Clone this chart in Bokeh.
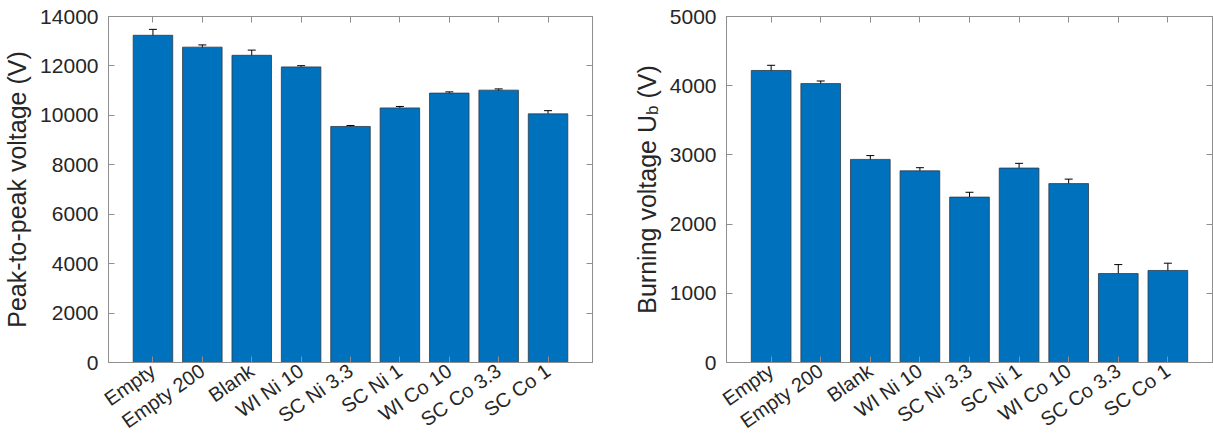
import math
from bokeh.plotting import figure
from bokeh.layouts import row
from bokeh.models import (ColumnDataSource, Whisker, TeeHead, FixedTicker,
                          LinearAxis)
from bokeh.core.properties import value
from bokeh.embed import file_html
from bokeh.resources import INLINE

# Sample names along the x axis
samples = ["Empty", "Empty 200", "Blank", "WI Ni 10", "SC Ni 3.3",
           "SC Ni 1", "WI Co 10", "SC Co 3.3", "SC Co 1"]

# Peak-to-peak voltage (V) and its standard deviation
vpp = [13240, 12760, 12430, 11960, 9550, 10300, 10900, 11020, 10060]
vpp_err = [240, 90, 210, 50, 40, 60, 50, 50, 130]

# Burning voltage U_b (V) and its standard deviation
ub = [4220, 4030, 2935, 2770, 2390, 2810, 2585, 1285, 1330]
ub_err = [75, 38, 55, 45, 70, 68, 65, 130, 105]

FONT = "Liberation Sans"
TXT = "#262626"
BOX = "#8f8f8f"
BAR = "#0072BD"
LBL = 25      # axis label size, px
SUB = 17      # subscript size, px
H = 448
TOP, BOTTOM = 16, 86   # borders above and below every plot frame


def panel(values, errors, ymax, ystep, ylabel, width, border_left, border_right):
    xs = list(range(1, len(samples) + 1))
    yticks = list(range(0, ymax + 1, ystep))
    src = ColumnDataSource(dict(
        x=xs, top=values,
        upper=[v + e for v, e in zip(values, errors)],
        lower=[v - e for v, e in zip(values, errors)],
    ))
    p = figure(width=width, height=H, x_range=(0.1, len(samples) + 0.9),
               y_range=(0, ymax), output_backend="svg", toolbar_location=None,
               min_border_left=border_left, min_border_right=border_right,
               min_border_top=TOP, min_border_bottom=BOTTOM)
    p.xgrid.visible = False
    p.ygrid.visible = False
    p.outline_line_color = BOX
    p.outline_line_width = 1
    p.background_fill_color = "white"
    p.border_fill_color = "white"

    p.vbar(x="x", top="top", width=0.8, source=src, fill_color=BAR,
           line_color="#2b3a4a", line_width=0.8)
    p.add_layout(Whisker(source=src, base="x", upper="upper", lower="lower",
                         line_color="black", line_width=1,
                         upper_head=TeeHead(size=8, line_color="black", line_width=1),
                         lower_head=TeeHead(size=8, line_color="black", line_width=1)))

    xt = FixedTicker(ticks=xs)
    yt = FixedTicker(ticks=yticks)

    bottom_ax = p.xaxis[0]
    left_ax = p.yaxis[0]
    bottom_ax.ticker = xt
    bottom_ax.major_label_overrides = {i + 1: s for i, s in enumerate(samples)}
    bottom_ax.major_label_orientation = math.radians(35)
    bottom_ax.major_label_text_font_size = "20px"
    bottom_ax.major_label_standoff = 6
    left_ax.ticker = yt
    left_ax.major_label_text_font_size = "21px"
    left_ax.major_label_standoff = 10
    left_ax.axis_label_text_font_size = f"{LBL}px"
    left_ax.axis_label_standoff = 6
    if ylabel:
        left_ax.axis_label = ylabel

    # mirrored tick marks on the top and right edges, without labels
    top_ax = LinearAxis(ticker=xt, major_label_overrides={t: "" for t in xs})
    right_ax = LinearAxis(ticker=yt, major_label_overrides={t: "" for t in yticks})
    p.add_layout(top_ax, "above")
    p.add_layout(right_ax, "right")
    for ax in (top_ax, right_ax):
        ax.major_label_standoff = 0

    for ax in (bottom_ax, left_ax, top_ax, right_ax):
        ax.axis_line_color = BOX
        ax.major_tick_line_color = BOX
        ax.major_tick_in = 6
        ax.major_tick_out = 0
        ax.minor_tick_line_color = None
        ax.major_label_text_font = FONT
        ax.major_label_text_color = TXT
        ax.axis_label_text_font = FONT
        ax.axis_label_text_color = TXT
        ax.axis_label_text_font_style = "normal"
    return p


LEFT_W = 606
LAB_W = 60
left = panel(vpp, vpp_err, 14000, 2000, "Peak-to-peak voltage (V)", LEFT_W, 106, 14)
right = panel(ub, ub_err, 5000, 1000, None, 1213 - LEFT_W - LAB_W, 120 - LAB_W, 1)

# Narrow strip holding the right panel's y label, "Burning voltage U_b (V)".
# Its frame lines up with the plot frames, and its data units are pixels
# measured from the bottom of the canvas, so the subscript can be placed by hand.
lab = figure(width=LAB_W, height=H, x_range=(0, LAB_W), y_range=(BOTTOM, H - TOP),
             title_location=None, output_backend="svg", toolbar_location=None,
             min_border_left=0, min_border_right=0,
             min_border_top=TOP, min_border_bottom=BOTTOM,
             x_axis_location=None, y_axis_location=None)
lab.outline_line_color = None
lab.xgrid.visible = False
lab.ygrid.visible = False

main_w = 7.948 * LBL          # "Burning voltage U"
sub_w = 0.556 * SUB           # "b"
gap_w = 0.278 * LBL           # word space before the unit
tail_w = 1.333 * LBL          # "(V)"
center_y = H - (TOP + (H - TOP - BOTTOM) / 2)
y0 = center_y - (main_w + sub_w + gap_w + tail_w) / 2
base_x = 40                   # baseline sits to the right of the glyphs

lab.text(x=[base_x, base_x + 6, base_x],
         y=[y0, y0 + main_w, y0 + main_w + sub_w + gap_w],
         text=["Burning voltage U", "b", "(V)"],
         angle=math.pi / 2,
         text_font=value(FONT),
         text_font_size=[f"{LBL}px", f"{SUB}px", f"{LBL}px"],
         text_color=TXT, text_align="left", text_baseline="alphabetic")

layout = row(left, lab, right)
open("out.html", "w").write(file_html(layout, INLINE))
